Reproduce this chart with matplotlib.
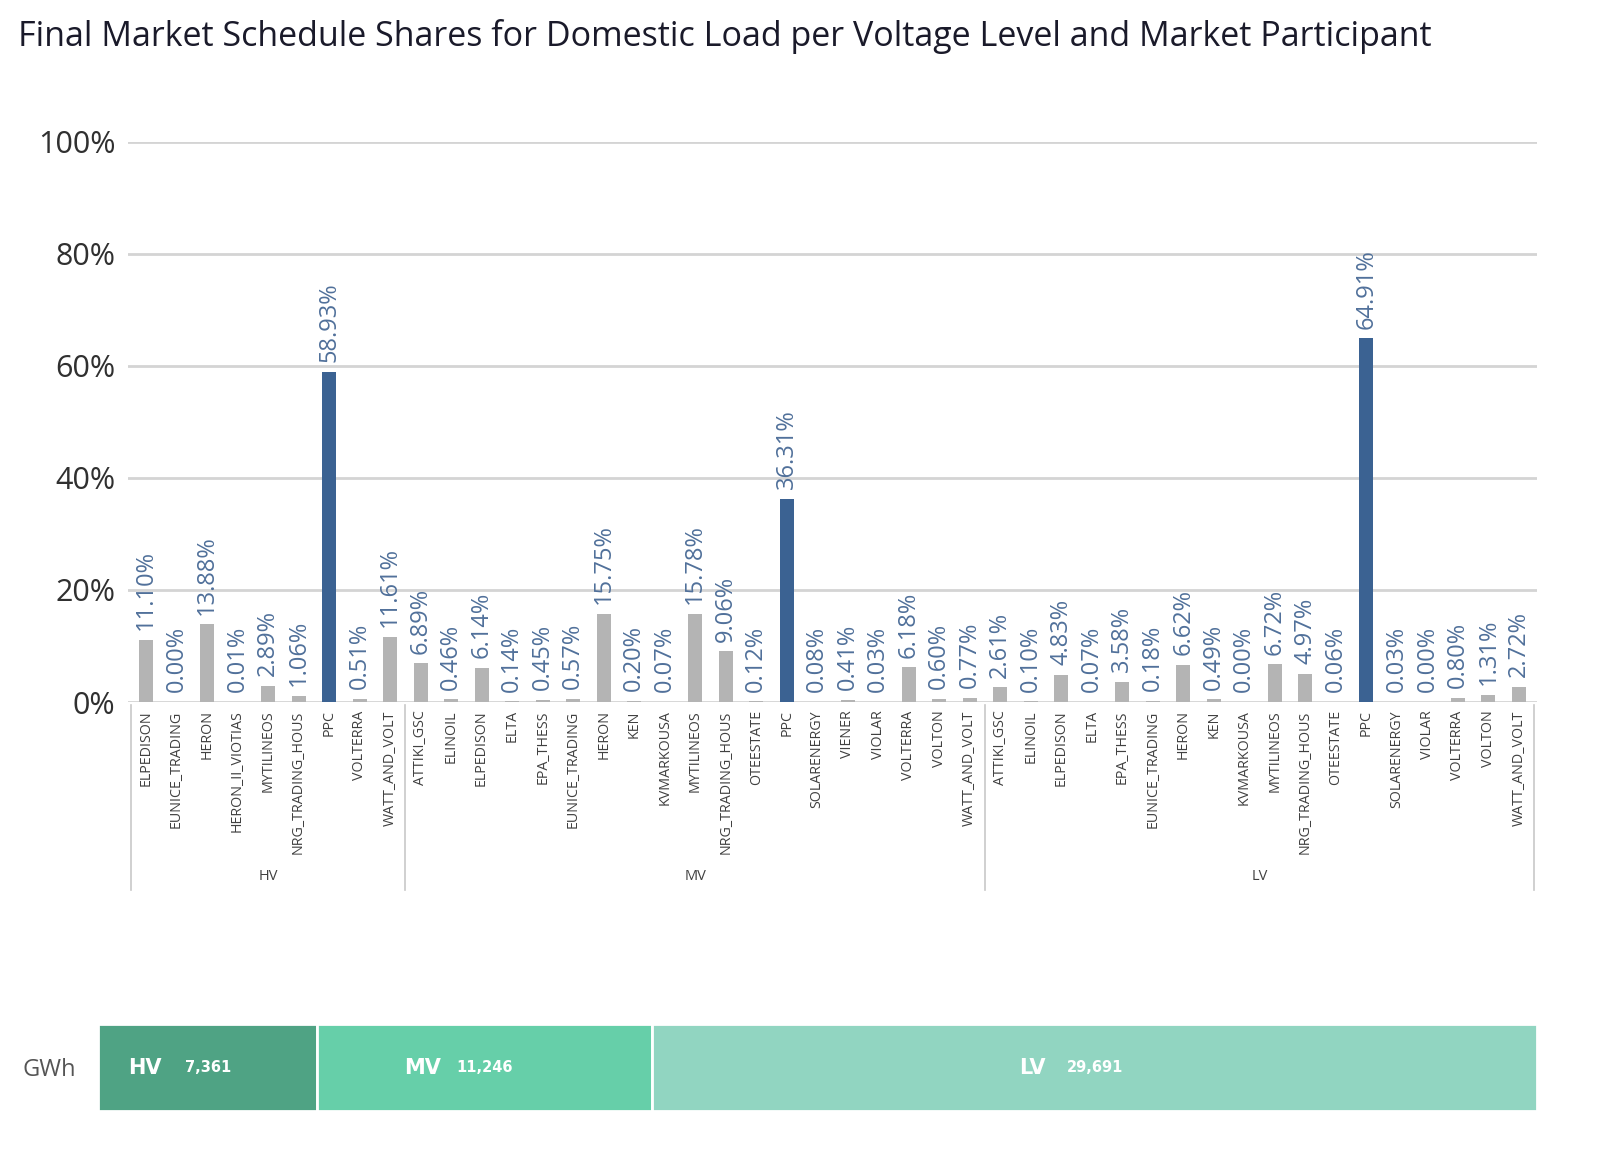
import numpy as np
import matplotlib.pyplot as plt
from matplotlib.transforms import blended_transform_factory

# participants per voltage level and their shares (%)
hv_names = ['ELPEDISON', 'EUNICE_TRADING', 'HERON', 'HERON_II_VIOTIAS', 'MYTILINEOS',
            'NRG_TRADING_HOUS', 'PPC', 'VOLTERRA', 'WATT_AND_VOLT']
hv_shares = [11.10, 0.00, 13.88, 0.01, 2.89, 1.06, 58.93, 0.51, 11.61]

mv_names = ['ATTIKI_GSC', 'ELINOIL', 'ELPEDISON', 'ELTA', 'EPA_THESS', 'EUNICE_TRADING',
            'HERON', 'KEN', 'KVMARKOUSA', 'MYTILINEOS', 'NRG_TRADING_HOUS', 'OTEESTATE',
            'PPC', 'SOLARENERGY', 'VIENER', 'VIOLAR', 'VOLTERRA', 'VOLTON', 'WATT_AND_VOLT']
mv_shares = [6.89, 0.46, 6.14, 0.14, 0.45, 0.57, 15.75, 0.20, 0.07, 15.78, 9.06, 0.12,
             36.31, 0.08, 0.41, 0.03, 6.18, 0.60, 0.77]

lv_names = ['ATTIKI_GSC', 'ELINOIL', 'ELPEDISON', 'ELTA', 'EPA_THESS', 'EUNICE_TRADING',
            'HERON', 'KEN', 'KVMARKOUSA', 'MYTILINEOS', 'NRG_TRADING_HOUS', 'OTEESTATE',
            'PPC', 'SOLARENERGY', 'VIOLAR', 'VOLTERRA', 'VOLTON', 'WATT_AND_VOLT']
lv_shares = [2.61, 0.10, 4.83, 0.07, 3.58, 0.18, 6.62, 0.49, 0.00, 6.72, 4.97, 0.06,
             64.91, 0.03, 0.00, 0.80, 1.31, 2.72]

levels = ['HV', 'MV', 'LV']
gwh = [7361, 11246, 29691]
y_ticks = [0, 20, 40, 60, 80, 100]

plt.rcParams['font.family'] = ['Open Sans', 'DejaVu Sans']

nomes = hv_names + mv_names + lv_names
valores = hv_shares + mv_shares + lv_shares
tamanhos = [len(hv_names), len(mv_names), len(lv_names)]
x = np.arange(len(nomes))

fig = plt.figure(figsize=(16, 11.72), dpi=100)
ax = fig.add_axes([0.08, 0.401, 0.8806, 0.478])

cores = ['#3b6292' if n == 'PPC' else '#b4b4b4' for n in nomes]
ax.bar(x, valores, width=0.46, color=cores, zorder=3)

# rótulos de dados
for xi, v in zip(x, valores):
    ax.annotate(f'{v:.2f}%', (xi, v), xytext=(0, 7), textcoords='offset points',
                rotation=90, ha='center', va='bottom', fontsize=17, color='#50709a')

ax.set_ylim(0, 100)
ax.set_xlim(-0.59, len(nomes) - 0.41)
ax.set_yticks(y_ticks)
ax.set_yticklabels([f'{t}%' for t in y_ticks], fontsize=22, color='#303030')
ax.yaxis.grid(True, color='#d4d4d4', linewidth=2, zorder=0)
ax.tick_params(axis='y', length=0, pad=9)
ax.set_xticks(x)
ax.set_xticklabels(nomes, rotation=90, fontsize=10.3, color='#404040')
ax.tick_params(axis='x', length=0, pad=6)
for lado in ['top', 'right', 'left', 'bottom']:
    ax.spines[lado].set_visible(False)

# separadores dos grupos e nomes dos níveis
trans = blended_transform_factory(ax.transData, ax.transAxes)
limites = np.concatenate([[0], np.cumsum(tamanhos)]) - 0.5
for b in limites:
    ax.plot([b, b], [-0.005, -0.335], transform=trans, color='#c8c8c8',
            linewidth=1.2, clip_on=False)
for i, nivel in enumerate(levels):
    centro = (limites[i] + limites[i + 1]) / 2
    ax.text(centro, -0.312, nivel, transform=trans, ha='center', va='center',
            fontsize=10.5, color='#404040')

# título
fig.text(0.011, 0.969, 'Final Market Schedule Shares for Domestic Load per Voltage Level and Market Participant',
         fontsize=24.5, color='#1a1a2a', ha='left', va='center')

# barra de GWh
ax2 = fig.add_axes([0.06125, 0.052, 0.8994, 0.0742])
cores_gwh = ['#4fa384', '#66cfa9', '#91d5c1']
inicio = np.concatenate([[0], np.cumsum(gwh)[:-1]])
ax2.barh(0, gwh, left=inicio, height=1, color=cores_gwh, edgecolor='white', linewidth=2)
ax2.set_xlim(0, sum(gwh))
ax2.set_ylim(-0.5, 0.5)
ax2.axis('off')
fonte_barra = ['Liberation Sans Narrow', 'DejaVu Sans']
for nivel, ini, v in zip(levels, inicio, gwh):
    centro = ini + v / 2
    ax2.text(centro, 0, f'{v:,}', ha='center', va='center', fontsize=10.5,
             fontweight='bold', color='white', family=fonte_barra)
    ax2.annotate(nivel, (centro, 0), xytext=(-45, 0), textcoords='offset points',
                 ha='center', va='center', fontsize=15, fontweight='bold',
                 color='white', family=fonte_barra)
fig.text(0.031, 0.087, 'GWh', fontsize=17, color='#555555', ha='center', va='center')

fig.savefig('out.png', dpi=100)
